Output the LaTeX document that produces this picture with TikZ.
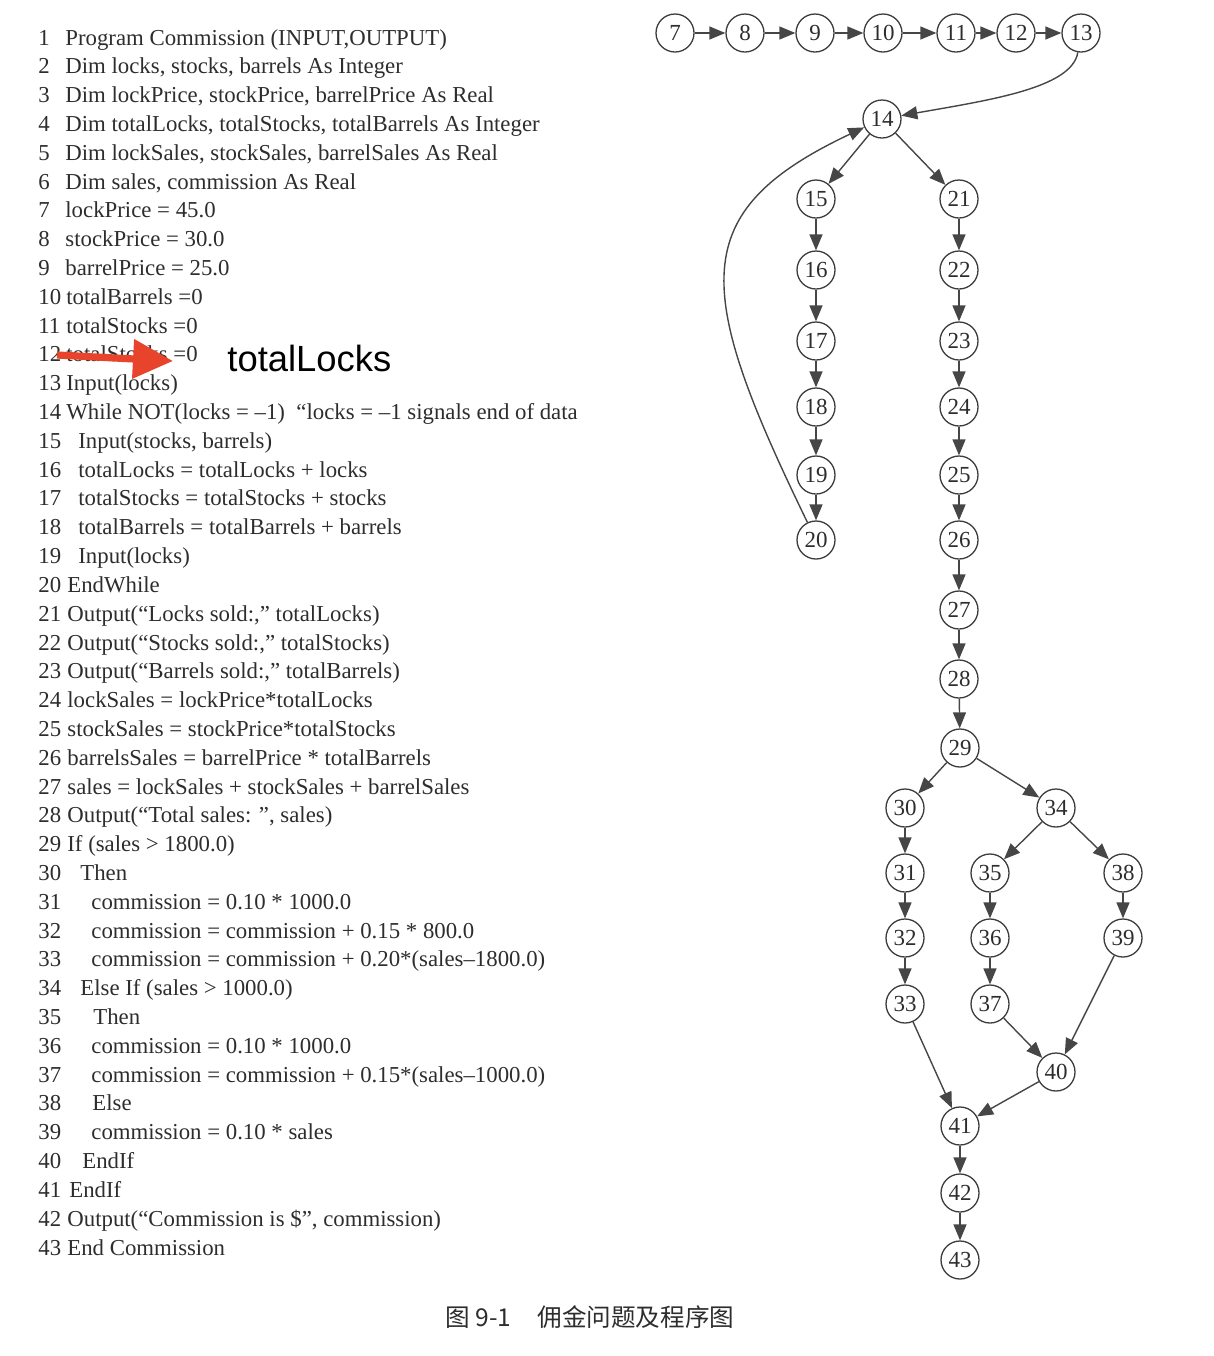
\documentclass[tikz,border=0pt]{standalone}
\usepackage{fontspec}
\setmainfont{Liberation Serif}
\newfontfamily\annofont{Liberation Sans}
\newfontfamily\cjk{Noto Sans CJK SC}
\usepackage{xcolor}
\usepackage{tikz}
\usetikzlibrary{arrows.meta}

\begin{document}
\begin{tikzpicture}[x=0.5pt, y=-0.5pt,
  codeline/.style={anchor=base west, inner sep=0pt, text=colT, font=\fontsize{11.4}{13}\selectfont},
  vtx/.style={circle, draw=colV, line width=0.65pt, minimum size=19pt, inner sep=0pt, text=colT, font=\fontsize{11.5}{12}\selectfont},
  edge/.style={draw=colE, line width=0.7pt, -{Triangle[length=8pt,width=6.5pt]}},
  redarrow/.style={draw=colR, line width=3.6pt, -{Triangle[length=20pt,width=19pt]}},
]

% ------------------------
% Colors
% ------------------------
\definecolor{colT}{RGB}{45,45,45}
\definecolor{colV}{RGB}{60,60,60}
\definecolor{colE}{RGB}{70,70,70}
\definecolor{colR}{RGB}{232,68,43}

% line pitch of the listing
\def\pitch{28.81}
\def\top{45}

\useasboundingbox (0,0) rectangle (1214,1356);

% ------------------------
% LEFT: program listing
% ------------------------
\foreach \n/\x/\t in {
    1/65/{Program Commission (INPUT,OUTPUT)},
    2/65/{Dim locks, stocks, barrels As Integer},
    3/65/{Dim lockPrice, stockPrice, barrelPrice As Real},
    4/65/{Dim totalLocks, totalStocks, totalBarrels As Integer},
    5/65/{Dim lockSales, stockSales, barrelSales As Real},
    6/65/{Dim sales, commission As Real},
    7/65/{lockPrice = 45.0},
    8/65/{stockPrice = 30.0},
    9/65/{barrelPrice = 25.0},
    10/66/{totalBarrels =0},
    11/66/{totalStocks =0},
    12/66/{totalStocks =0},
    13/66/{Input(locks)},
    14/66/{While NOT(locks = –1)\ \ “locks = –1 signals end of data},
    15/78/{Input(stocks, barrels)},
    16/78/{totalLocks = totalLocks + locks},
    17/78/{totalStocks = totalStocks + stocks},
    18/78/{totalBarrels = totalBarrels + barrels},
    19/78/{Input(locks)},
    20/67/{EndWhile},
    21/67/{Output(“Locks sold:,” totalLocks)},
    22/67/{Output(“Stocks sold:,” totalStocks)},
    23/67/{Output(“Barrels sold:,” totalBarrels)},
    24/67/{lockSales = lockPrice*totalLocks},
    25/67/{stockSales = stockPrice*totalStocks},
    26/67/{barrelsSales = barrelPrice * totalBarrels},
    27/67/{sales = lockSales + stockSales + barrelSales},
    28/67/{Output(“Total sales: ”, sales)},
    29/67/{If (sales > 1800.0)},
    30/80/{Then},
    31/91/{commission = 0.10 * 1000.0},
    32/91/{commission = commission + 0.15 * 800.0},
    33/91/{commission = commission + 0.20*(sales–1800.0)},
    34/80/{Else If (sales > 1000.0)},
    35/93/{Then},
    36/91/{commission = 0.10 * 1000.0},
    37/91/{commission = commission + 0.15*(sales–1000.0)},
    38/92/{Else},
    39/91/{commission = 0.10 * sales},
    40/82/{EndIf},
    41/69/{EndIf},
    42/67/{Output(“Commission is \$”, commission)},
    43/67/{End Commission}} {
    \pgfmathsetmacro\yy{\top+(\n-1)*\pitch}
    \node[codeline] (num\n) at (38,\yy) {\n};
    \node[codeline] (ln\n) at (\x,\yy) {\t};
}

% red correction on line 12
\coordinate (redtail) at (57,355);
\coordinate (redtip) at (173,361);
\draw[redarrow] (redtail) -- (redtip);
\node[anchor=base west, inner sep=0pt, font=\annofont\fontsize{18.2}{20}\selectfont] (fixlabel) at (227,371) {totalLocks};

% ------------------------
% RIGHT: program graph
% ------------------------
% top row 7..13
\foreach \n/\x in {7/675, 8/745, 9/815, 10/883, 11/956, 12/1016, 13/1081}
    \node[vtx] (v\n) at (\x,33) {\n};
\node[vtx] (v14) at (882,119) {14};

% loop body 15..20
\foreach \n/\y in {15/199, 16/270, 17/341, 18/407, 19/475, 20/540}
    \node[vtx] (v\n) at (816,\y) {\n};

% after loop 21..29
\foreach \n/\y in {21/199, 22/270, 23/341, 24/407, 25/475, 26/540, 27/610, 28/679}
    \node[vtx] (v\n) at (959,\y) {\n};
\node[vtx] (v29) at (960,748) {29};

% if / else if / else
\foreach \n/\y in {30/808, 31/873, 32/938, 33/1004}
    \node[vtx] (v\n) at (905,\y) {\n};
\node[vtx] (v34) at (1056,808) {34};
\foreach \n/\y in {35/873, 36/938, 37/1004}
    \node[vtx] (v\n) at (990,\y) {\n};
\foreach \n/\y in {38/873, 39/938}
    \node[vtx] (v\n) at (1123,\y) {\n};
\node[vtx] (v40) at (1056,1072) {40};
\foreach \n/\y in {41/1126, 42/1193, 43/1260}
    \node[vtx] (v\n) at (960,\y) {\n};

% edges
\foreach \a/\b in {7/8, 8/9, 9/10, 10/11, 11/12, 12/13,
    14/15, 14/21, 15/16, 16/17, 17/18, 18/19, 19/20,
    21/22, 22/23, 23/24, 24/25, 25/26, 26/27, 27/28, 28/29,
    29/30, 29/34, 30/31, 31/32, 32/33, 34/35, 34/38,
    35/36, 36/37, 38/39, 33/41, 37/40, 39/40, 40/41, 41/42, 42/43}
    \draw[edge] (v\a) -- (v\b);

\draw[edge] (v13) .. controls (1072,88) and (990,100) .. (v14);
\draw[edge] (v20) .. controls (694,289) and (685,212) .. (v14);

% ------------------------
% caption
% ------------------------
\node[anchor=base west, inner sep=0pt, text=colT, font=\cjk\fontsize{12.3}{14}\selectfont] (capnum) at (445,1326) {图 9-1};
\node[anchor=base west, inner sep=0pt, text=colT, font=\cjk\fontsize{12.3}{14}\selectfont] (captext) at (537,1326) {佣金问题及程序图};

\end{tikzpicture}
\end{document}
